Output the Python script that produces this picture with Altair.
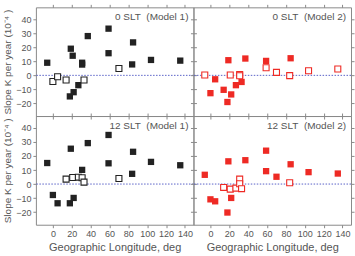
import altair as alt
import pandas as pd

# Station longitudes (deg), shared by all panels
lon = [-6, 0, 5, 14, 18, 19, 21, 22, 27, 31, 31, 33, 37, 59, 59, 70, 84, 85, 104, 135]

# Slopes (10^-4 K per year) and filled (1) / open (0) flags
m1_0_val = [9, -4.4, -1, -3.3, -15, 19, 14, -12, -7, 9, 7.7, -3.3, 28, 33.3, 15.8, 4.9, 7.8, 23.5, 11, 10.5]
m1_0_fill = [1, 0, 0, 0, 1, 1, 1, 1, 1, 1, 1, 0, 1, 1, 1, 0, 1, 1, 1, 1]
m2_0_val = [0.3, -12.7, -2.8, -10.3, -19, 10.8, 0.3, -13.6, -7, 0.5, -0.3, -4.7, 12, 10.3, 5.4, 2.1, -0.2, 12.2, 3.3, 4.5]
m2_0_fill = [0, 1, 1, 1, 1, 1, 0, 1, 1, 0, 0, 1, 1, 1, 0, 0, 0, 1, 0, 0]
m1_12_val = [15, -7.8, -13.7, 3.5, -13.7, 25.2, 4.7, -9.9, 4.9, 10.1, 4.5, 1.4, 29.2, 35, 14.8, 4, 7.3, 23, 15.8, 13.4]
m1_12_fill = [1, 1, 1, 0, 1, 1, 0, 1, 0, 1, 0, 0, 1, 1, 1, 0, 1, 1, 1, 1]
m2_12_val = [6.6, -10.9, -12.3, -2.4, -20.3, 16.2, -3.6, -9.9, -2.9, 3.5, 0.2, -3.3, 17, 23.8, 9.2, 5.2, 0.9, 14.1, 8.5, 7.5]
m2_12_fill = [1, 1, 1, 0, 1, 1, 0, 1, 0, 0, 0, 0, 1, 1, 1, 1, 0, 1, 1, 1]

panel_labels = ["0 SLT\u00a0\u00a0(Model 1)", "0 SLT\u00a0\u00a0(Model 2)",
                "12 SLT\u00a0\u00a0(Model 1)", "12 SLT\u00a0\u00a0(Model 2)"]
x_ticks = [0, 20, 40, 60, 80, 100, 120, 140]
y_ticks = [-20, -10, 0, 10, 20, 30, 40]
x_title = "Geographic Longitude, deg"
y_title = "Slope K per year (10\u207b\u2074 )"

W, H = 158, 109
XDOM = [-18, 149]
YDOM = [-29, 48.5]
FONT = "Liberation Sans"
AX = "#8a8a8a"
TXT = "#555555"
BLACK = "#222222"
RED = "#ee2a24"


def panel(vals, fills, label, color, left, bottom):
    df = pd.DataFrame({"lon": lon, "val": vals, "fill": fills})
    xs = alt.Scale(domain=XDOM, nice=False, zero=False)
    ys = alt.Scale(domain=YDOM, nice=False, zero=False)
    common = dict(grid=False, domain=False, tickColor=AX, tickSize=3,
                  labelFontSize=9, labelColor=TXT, labelFont=FONT,
                  titleColor=TXT, titleFont=FONT, titleFontWeight="normal",
                  labelPadding=2)
    xaxis = alt.Axis(values=x_ticks, labels=bottom, title=x_title if bottom else None,
                     titleFontSize=11, titlePadding=3, **common)
    yaxis = alt.Axis(values=y_ticks, labels=left, title=y_title if left else None,
                     titleFontSize=10, titlePadding=3, **common)
    xtop = alt.Axis(values=x_ticks, labels=False, title=None, orient="top", **common)
    yright = alt.Axis(values=y_ticks, labels=False, title=None, orient="right", **common)
    base = alt.Chart(df)
    zero = alt.Chart(pd.DataFrame({"z": [0]})).mark_rule(
        color="#5a62c8", strokeDash=[1.5, 1.5], strokeWidth=1
    ).encode(y=alt.Y("z:Q", scale=ys, axis=None))
    filled = base.transform_filter("datum.fill == 1").mark_square(
        size=40, color=color, opacity=1, filled=True
    ).encode(x=alt.X("lon:Q", scale=xs, axis=xaxis), y=alt.Y("val:Q", scale=ys, axis=yaxis))
    opened = base.transform_filter("datum.fill == 0").mark_square(
        size=36, color=color, fill="white", fillOpacity=1, filled=False,
        strokeWidth=1.1, opacity=1
    ).encode(x=alt.X("lon:Q", scale=xs, axis=None), y=alt.Y("val:Q", scale=ys, axis=None))
    mirror = base.mark_point(opacity=0).encode(
        x=alt.X("lon:Q", scale=xs, axis=xtop), y=alt.Y("val:Q", scale=ys, axis=yright)
    )
    text = alt.Chart(pd.DataFrame({"t": [label]})).mark_text(
        align="right", baseline="middle", fontSize=10, font=FONT, color=TXT
    ).encode(text="t:N", x=alt.value(W - 5), y=alt.value(10))
    return alt.layer(zero, filled, opened, mirror, text).resolve_axis(
        x="independent", y="independent"
    ).properties(width=W, height=H)


tl = panel(m1_0_val, m1_0_fill, panel_labels[0], BLACK, True, False)
tr = panel(m2_0_val, m2_0_fill, panel_labels[1], RED, False, False)
bl = panel(m1_12_val, m1_12_fill, panel_labels[2], BLACK, True, True)
br = panel(m2_12_val, m2_12_fill, panel_labels[3], RED, False, True)

chart = alt.concat(tl, tr, bl, br, columns=2, spacing=0, bounds="flush").configure_view(
    stroke=AX, strokeWidth=1
).properties(
    padding={"left": 2, "top": 3, "right": 0, "bottom": 0}, background="white"
)

chart.save("out.html", embed_options={"renderer": "svg", "actions": False})
